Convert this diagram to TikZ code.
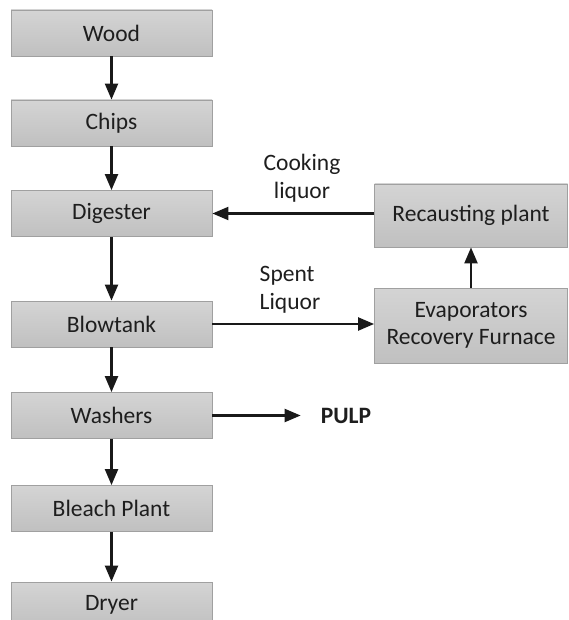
\documentclass[tikz,border=0pt]{standalone}
\usepackage{fontspec}
\setmainfont{Carlito}
\usetikzlibrary{arrows.meta}
\definecolor{boxtop}{RGB}{212,212,212}
\definecolor{boxbot}{RGB}{192,192,192}
\definecolor{boxline}{RGB}{160,160,160}
\definecolor{txt}{RGB}{30,30,30}
\tikzset{
  procbox/.style={draw=boxline, line width=0.8pt, top color=boxtop, bottom color=boxbot,
    minimum width=201pt, minimum height=46pt, inner sep=0pt, text=txt,
    font=\fontsize{23.5}{27}\selectfont, align=center},
  flow/.style={draw=black!90, line width=2.2pt, -{Triangle[length=16pt,width=13pt]}},
  lbl/.style={text=txt, font=\fontsize{23.5}{28}\selectfont, inner sep=0pt}
}
\begin{document}
\begin{tikzpicture}[x=1pt,y=-1pt]
\path[use as bounding box] (0,0) rectangle (568,620);
\begin{scope}
\clip (0,0) rectangle (568,620);
\node[procbox] (wood) at (111.5,33) {Wood};
\node[procbox] (chips) at (111.5,123) {Chips};
\node[procbox] (dig) at (111.5,213.5) {Digester};
\node[procbox] (blow) at (111.5,324) {Blowtank};
\node[procbox] (wash) at (111.5,415.5) {Washers};
\node[procbox] (bleach) at (111.5,508.5) {Bleach Plant};
\node[procbox] (dryer) at (111.5,605) {Dryer};
\node[procbox, minimum width=193pt, minimum height=63pt] (rec) at (471,215.5) {Recausting plant};
\node[procbox, minimum width=193pt, minimum height=75pt] (evap) at (471,325.5) {Evaporators\\Recovery Furnace};
\node[lbl, font=\fontsize{23.5}{27}\bfseries] (pulp) at (346,415.5) {PULP};
\node[lbl, align=center] (cook) at (302,178) {Cooking\\liquor};
\node[lbl, align=left] (spent) at (290,290) {Spent\\Liquor};
\draw[flow] (wood) -- (chips);
\draw[flow] (chips) -- (dig);
\draw[flow] (dig) -- (blow);
\draw[flow] (blow) -- (wash);
\draw[flow] (wash) -- (bleach);
\draw[flow] (bleach) -- (dryer);
\draw[flow] (rec.west |- dig.east) -- (dig.east);
\draw[flow] (blow.east) -- (blow.east -| evap.west);
\draw[flow] (evap.north) -- (rec.south);
\draw[flow, shorten >=20pt] (wash.east) -- (pulp.west);
\end{scope}
\end{tikzpicture}
\end{document}
